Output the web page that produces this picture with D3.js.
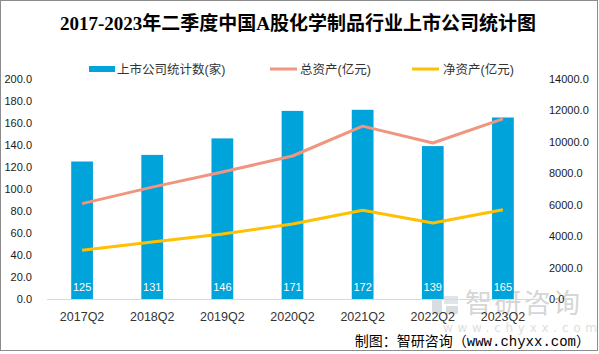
<!DOCTYPE html>
<html>
<head>
<meta charset="utf-8">
<script src="https://cdn.jsdelivr.net/npm/d3@7"></script>
<style>
  html, body { margin: 0; padding: 0; background: #fff; }
  svg { display: block; }
</style>
</head>
<body>
<svg id="chart" width="599" height="354"></svg>
<script>
// chart data
const quarters = ["2017Q2", "2018Q2", "2019Q2", "2020Q2", "2021Q2", "2022Q2", "2023Q2"];
const companyCount = [125, 131, 146, 171, 172, 139, 165];
const totalAssets = [6070, 7120, 8080, 9100, 11000, 9930, 11460];
const netAssets = [3100, 3620, 4130, 4770, 5650, 4840, 5680];
const leftTicks = [0, 20, 40, 60, 80, 100, 120, 140, 160, 180, 200];
const rightTicks = [0, 2000, 4000, 6000, 8000, 10000, 12000, 14000];

const titleText = "2017-2023年二季度中国A股化学制品行业上市公司统计图";
const legendNames = ["上市公司统计数(家)", "总资产(亿元)", "净资产(亿元)"];

const barColour = "#00A3DA", totalColour = "#F0957F", netColour = "#FFC000";
const cjkFont = "'Liberation Sans', 'Noto Sans CJK SC', sans-serif";

const svg = d3.select("#chart");
const plot = { left: 47, right: 538, top: 79, bottom: 299 };

// outer frame
svg.append("rect")
    .attr("x", 0.5).attr("y", 0.5)
    .attr("width", 597).attr("height", 350)
    .attr("fill", "#fff")
    .attr("stroke", "#8c8c8c");

// title
svg.append("text")
    .text(titleText)
    .attr("x", 298).attr("y", 30)
    .attr("text-anchor", "middle")
    .attr("font-family", "'Liberation Serif', 'Noto Sans CJK SC', serif")
    .attr("font-weight", "bold")
    .attr("font-size", 19)
    .attr("fill", "#000");

// scales
const x = d3.scaleBand()
    .domain(quarters)
    .range([plot.left, plot.right])
    .paddingInner(0.69).paddingOuter(0.345);

const yLeft = d3.scaleLinear().domain([0, 200]).range([plot.bottom, plot.top]);
const yRight = d3.scaleLinear().domain([0, 14000]).range([plot.bottom, plot.top]);

// watermark (behind marks)
const wm = svg.append("g").attr("opacity", 0.55);
wm.append("rect").attr("x", 432).attr("y", 296).attr("width", 10).attr("height", 18).attr("fill", "#b9c3cf");
wm.append("rect").attr("x", 444).attr("y", 296).attr("width", 14).attr("height", 8).attr("fill", "#c9cfd8");
wm.append("rect").attr("x", 446).attr("y", 306).attr("width", 12).attr("height", 8).attr("fill", "#b9c3cf");
wm.append("text")
    .text("智研咨询")
    .attr("x", 465).attr("y", 313)
    .attr("textLength", 115)
    .attr("font-family", "'Noto Sans CJK SC', sans-serif")
    .attr("font-size", 27)
    .attr("fill", "#b5b5b5");
wm.append("text")
    .text("www.chyxx.com")
    .attr("x", 443).attr("y", 332)
    .attr("textLength", 154)
    .attr("font-family", "'DejaVu Sans', sans-serif")
    .attr("font-size", 12)
    .attr("fill", "#c4c4c4");

// bars
svg.append("g")
    .selectAll("rect")
    .data(quarters)
    .join("rect")
    .attr("x", d => x(d))
    .attr("width", x.bandwidth())
    .attr("y", (d, i) => yLeft(companyCount[i]))
    .attr("height", (d, i) => yLeft(0) - yLeft(companyCount[i]))
    .attr("fill", barColour);

// axis line
svg.append("line")
    .attr("x1", plot.left).attr("x2", plot.right)
    .attr("y1", plot.bottom + 0.5).attr("y2", plot.bottom + 0.5)
    .attr("stroke", "#d9d9d9");

// lines
const lineGen = scale => d3.line()
    .x((d, i) => x(quarters[i]) + x.bandwidth() / 2)
    .y(d => scale(d));

svg.append("path")
    .datum(totalAssets)
    .attr("d", lineGen(yRight))
    .attr("fill", "none")
    .attr("stroke", totalColour)
    .attr("stroke-width", 3)
    .attr("stroke-linejoin", "round");

svg.append("path")
    .datum(netAssets)
    .attr("d", lineGen(yRight))
    .attr("fill", "none")
    .attr("stroke", netColour)
    .attr("stroke-width", 3)
    .attr("stroke-linejoin", "round");

// bar value labels
svg.append("g")
    .selectAll("text")
    .data(quarters)
    .join("text")
    .text((d, i) => companyCount[i])
    .attr("x", d => x(d) + x.bandwidth() / 2)
    .attr("y", 291)
    .attr("text-anchor", "middle")
    .attr("font-family", "'Liberation Sans', sans-serif")
    .attr("font-size", 11)
    .attr("fill", "#fff");

// left axis
const leftAxis = svg.append("g")
    .attr("transform", `translate(${plot.left - 14},0)`)
    .call(d3.axisLeft(yLeft).tickValues(leftTicks).tickFormat(d3.format(".1f")).tickSize(0).tickPadding(1));
leftAxis.select(".domain").remove();
leftAxis.selectAll("text")
    .attr("font-family", "'Liberation Sans', sans-serif")
    .attr("font-size", 11)
    .attr("fill", "#1a1a1a");

// right axis
const rightAxis = svg.append("g")
    .attr("transform", `translate(${plot.right + 11},0)`)
    .call(d3.axisRight(yRight).tickValues(rightTicks).tickFormat(d3.format(".1f")).tickSize(0).tickPadding(0));
rightAxis.select(".domain").remove();
rightAxis.selectAll("text")
    .attr("font-family", "'Liberation Sans', sans-serif")
    .attr("font-size", 11)
    .attr("fill", "#1a1a1a");

// bottom axis labels
const bottomAxis = svg.append("g")
    .attr("transform", `translate(0,${plot.bottom})`)
    .call(d3.axisBottom(x).tickSize(0).tickPadding(13));
bottomAxis.select(".domain").remove();
bottomAxis.selectAll("text")
    .attr("font-family", "'Liberation Sans', sans-serif")
    .attr("font-size", 12.5)
    .attr("fill", "#333");

// legend
const legend = svg.append("g").attr("font-family", cjkFont).attr("font-size", 12.5).attr("fill", "#333");
legend.append("rect").attr("x", 89).attr("y", 66).attr("width", 26).attr("height", 6).attr("fill", barColour);
legend.append("text").text(legendNames[0]).attr("x", 117).attr("y", 74);
legend.append("line").attr("x1", 270).attr("x2", 297).attr("y1", 69).attr("y2", 69)
    .attr("stroke", totalColour).attr("stroke-width", 3);
legend.append("text").text(legendNames[1]).attr("x", 300).attr("y", 74);
legend.append("line").attr("x1", 412).attr("x2", 439).attr("y1", 69).attr("y2", 69)
    .attr("stroke", netColour).attr("stroke-width", 3);
legend.append("text").text(legendNames[2]).attr("x", 443).attr("y", 74);

// source note
svg.append("text")
    .text("制图：智研咨询（www.chyxx.com）")
    .attr("x", 590).attr("y", 346)
    .attr("text-anchor", "end")
    .attr("font-family", "'Liberation Mono', 'Noto Sans CJK SC', monospace")
    .attr("font-size", 14)
    .attr("fill", "#000");
</script>
</body>
</html>
